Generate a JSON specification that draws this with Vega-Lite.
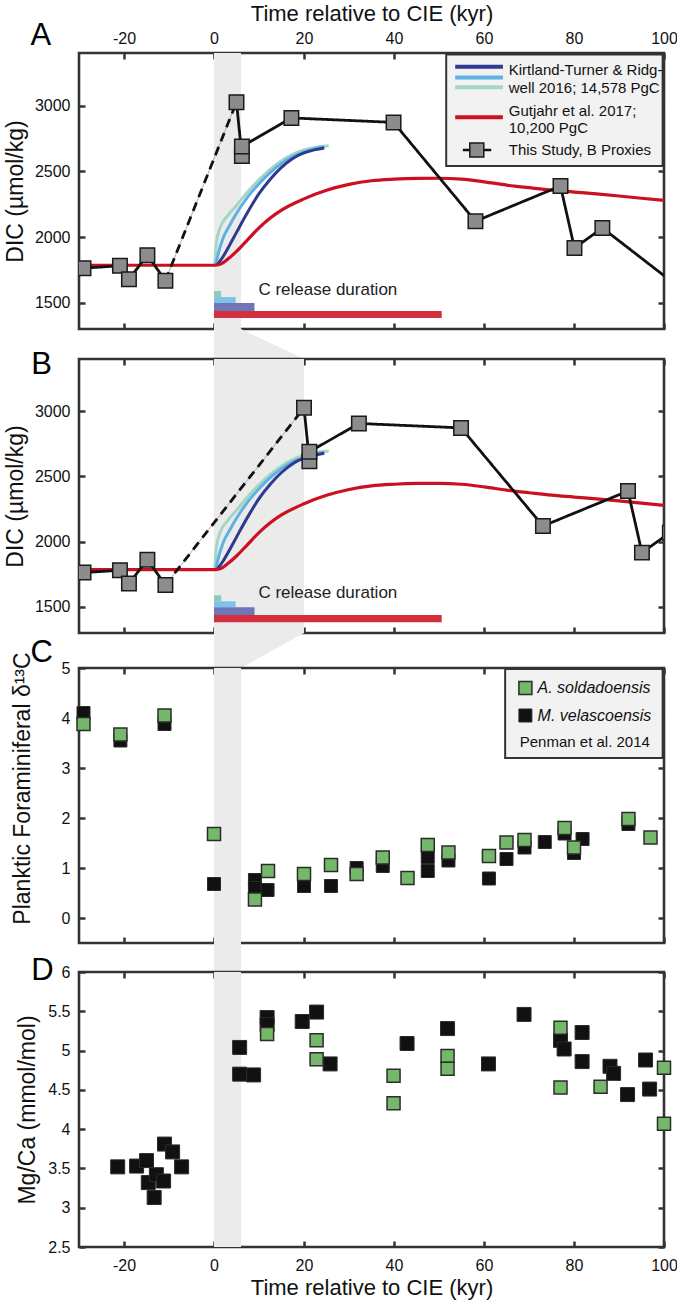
{
"$schema": "https://vega.github.io/schema/vega-lite/v6.json",
"padding": {"left": 3, "top": 0, "right": 0, "bottom": 0},
"bounds": "flush",
"spacing": 0,
"config": {
 "font": "Liberation Sans",
 "view": {"stroke": "#333333", "strokeWidth": 2.6},
 "axis": {"grid": false, "domain": false, "tickSize": -6, "tickWidth": 2.5, "tickColor": "#333333", "labelFontSize": 16, "labelColor": "#111111", "titleFontSize": 23, "titleFontWeight": "normal", "titleColor": "#111111", "labelFlush": false, "labelOverlap": false}
},
"datasets": {
 "kt": [
  {"model":"green","x":0.2,"dic":1790},{"model":"green","x":0.5,"dic":1950},{"model":"green","x":1.4,"dic":2075},{"model":"green","x":3,"dic":2160},{"model":"green","x":5,"dic":2240},{"model":"green","x":7.5,"dic":2345},{"model":"green","x":10,"dic":2435},{"model":"green","x":12.5,"dic":2515},{"model":"green","x":15,"dic":2580},{"model":"green","x":17.5,"dic":2628},{"model":"green","x":20,"dic":2662},{"model":"green","x":22.5,"dic":2682},{"model":"green","x":25.5,"dic":2695},
  {"model":"light","x":0.4,"dic":1790},{"model":"light","x":1,"dic":1880},{"model":"light","x":2,"dic":1990},{"model":"light","x":3.5,"dic":2090},{"model":"light","x":5,"dic":2180},{"model":"light","x":7.5,"dic":2305},{"model":"light","x":10,"dic":2405},{"model":"light","x":12.5,"dic":2490},{"model":"light","x":15,"dic":2560},{"model":"light","x":17.5,"dic":2612},{"model":"light","x":20,"dic":2648},{"model":"light","x":22.5,"dic":2672},{"model":"light","x":24.5,"dic":2684},
  {"model":"dark","x":0.6,"dic":1785},{"model":"dark","x":2,"dic":1850},{"model":"dark","x":3.5,"dic":1940},{"model":"dark","x":5,"dic":2035},{"model":"dark","x":7.5,"dic":2190},{"model":"dark","x":10,"dic":2330},{"model":"dark","x":12.5,"dic":2440},{"model":"dark","x":15,"dic":2530},{"model":"dark","x":17.5,"dic":2598},{"model":"dark","x":20,"dic":2640},{"model":"dark","x":22.5,"dic":2665},{"model":"dark","x":24.5,"dic":2678}
 ],
 "red": [
  {"x":-30,"dic":1785},{"x":0,"dic":1785},{"x":1.5,"dic":1795},{"x":3,"dic":1830},{"x":5,"dic":1890},{"x":7.5,"dic":1980},{"x":10,"dic":2070},{"x":12.5,"dic":2145},{"x":15,"dic":2205},{"x":20,"dic":2290},{"x":25,"dic":2355},{"x":30,"dic":2400},{"x":35,"dic":2428},{"x":40,"dic":2440},{"x":45,"dic":2446},{"x":50,"dic":2447},{"x":55,"dic":2440},{"x":60,"dic":2420},{"x":65,"dic":2395},{"x":70,"dic":2375},{"x":75,"dic":2356},{"x":80,"dic":2342},{"x":85,"dic":2328},{"x":90,"dic":2312},{"x":95,"dic":2295},{"x":100,"dic":2278}
 ],
 "proxyA": [
  {"seg":"pre","ord":1,"x":-29.0,"dic":1763},{"seg":"pre","ord":2,"x":-20.9,"dic":1781},{"seg":"pre","ord":3,"x":-18.9,"dic":1679},{"seg":"pre","ord":4,"x":-14.8,"dic":1862},{"seg":"pre","ord":5,"x":-10.8,"dic":1668},
  {"seg":"gap","ord":1,"x":-10.8,"dic":1668},{"seg":"gap","ord":2,"x":5.0,"dic":3026},
  {"seg":"post","ord":1,"x":5.0,"dic":3026},{"seg":"post","ord":2,"x":6.2,"dic":2617},{"seg":"post","ord":3,"x":6.2,"dic":2689},{"seg":"post","ord":4,"x":17.2,"dic":2906},{"seg":"post","ord":5,"x":39.9,"dic":2872},{"seg":"post","ord":6,"x":58.1,"dic":2120},{"seg":"post","ord":7,"x":77.0,"dic":2388},{"seg":"post","ord":8,"x":80.1,"dic":1916},{"seg":"post","ord":9,"x":86.3,"dic":2069},{"seg":"post","ord":10,"x":104,"dic":1600}
 ],
 "proxyB": [
  {"seg":"pre","ord":1,"x":-29.0,"dic":1763},{"seg":"pre","ord":2,"x":-20.9,"dic":1781},{"seg":"pre","ord":3,"x":-18.9,"dic":1679},{"seg":"pre","ord":4,"x":-14.8,"dic":1862},{"seg":"pre","ord":5,"x":-10.8,"dic":1668},
  {"seg":"gap","ord":1,"x":-10.8,"dic":1668},{"seg":"gap","ord":2,"x":20.0,"dic":3026},
  {"seg":"post","ord":1,"x":20.0,"dic":3026},{"seg":"post","ord":2,"x":21.2,"dic":2617},{"seg":"post","ord":3,"x":21.2,"dic":2689},{"seg":"post","ord":4,"x":32.2,"dic":2906},{"seg":"post","ord":5,"x":54.9,"dic":2872},{"seg":"post","ord":6,"x":73.1,"dic":2120},{"seg":"post","ord":7,"x":92.0,"dic":2388},{"seg":"post","ord":8,"x":95.1,"dic":1916},{"seg":"post","ord":9,"x":101.3,"dic":2069},{"seg":"post","ord":10,"x":119,"dic":1600}
 ],
 "c13": [
  {"sp":"M","x":-29.0,"v":4.10},{"sp":"M","x":-20.8,"v":3.55},{"sp":"M","x":-11.0,"v":3.88},{"sp":"M","x":0.0,"v":0.68},{"sp":"M","x":9.1,"v":0.76},{"sp":"M","x":9.1,"v":0.60},{"sp":"M","x":11.9,"v":0.56},{"sp":"M","x":20.0,"v":0.64},{"sp":"M","x":26.0,"v":0.64},{"sp":"M","x":31.7,"v":1.0},{"sp":"M","x":37.5,"v":1.04},{"sp":"M","x":47.5,"v":1.22},{"sp":"M","x":47.5,"v":0.94},{"sp":"M","x":52.1,"v":1.15},{"sp":"M","x":61.1,"v":0.79},{"sp":"M","x":65.0,"v":1.18},{"sp":"M","x":69.0,"v":1.41},{"sp":"M","x":73.5,"v":1.52},{"sp":"M","x":77.9,"v":1.69},{"sp":"M","x":80.0,"v":1.30},{"sp":"M","x":81.9,"v":1.58},{"sp":"M","x":92.1,"v":1.88},
  {"sp":"A","x":-29.0,"v":3.88},{"sp":"A","x":-20.8,"v":3.67},{"sp":"A","x":-11.0,"v":4.05},{"sp":"A","x":0.0,"v":1.68},{"sp":"A","x":9.1,"v":0.37},{"sp":"A","x":12.0,"v":0.94},{"sp":"A","x":20.0,"v":0.88},{"sp":"A","x":26.0,"v":1.06},{"sp":"A","x":31.7,"v":0.88},{"sp":"A","x":37.5,"v":1.21},{"sp":"A","x":43.0,"v":0.80},{"sp":"A","x":47.5,"v":1.46},{"sp":"A","x":52.1,"v":1.31},{"sp":"A","x":61.1,"v":1.24},{"sp":"A","x":65.0,"v":1.51},{"sp":"A","x":69.0,"v":1.56},{"sp":"A","x":77.9,"v":1.80},{"sp":"A","x":80.0,"v":1.41},{"sp":"A","x":92.1,"v":1.98},{"sp":"A","x":97.0,"v":1.61}
 ],
 "mgca": [
  {"sp":"M","x":-21.4,"v":3.52},{"sp":"M","x":-17.2,"v":3.53},{"sp":"M","x":-15.0,"v":3.60},{"sp":"M","x":-14.6,"v":3.32},{"sp":"M","x":-13.3,"v":3.13},{"sp":"M","x":-12.8,"v":3.42},{"sp":"M","x":-11.2,"v":3.34},{"sp":"M","x":-11.0,"v":3.81},{"sp":"M","x":-9.2,"v":3.71},{"sp":"M","x":-7.2,"v":3.52},
  {"sp":"M","x":5.7,"v":5.04},{"sp":"M","x":5.7,"v":4.70},{"sp":"M","x":8.8,"v":4.69},{"sp":"M","x":11.8,"v":5.42},{"sp":"M","x":11.8,"v":5.33},{"sp":"M","x":19.6,"v":5.37},{"sp":"M","x":22.8,"v":5.49},{"sp":"M","x":25.8,"v":4.83},{"sp":"M","x":42.9,"v":5.09},{"sp":"M","x":51.9,"v":5.28},{"sp":"M","x":61.0,"v":4.83},{"sp":"M","x":68.9,"v":5.46},{"sp":"M","x":77.0,"v":5.13},{"sp":"M","x":77.8,"v":5.02},{"sp":"M","x":81.8,"v":5.23},{"sp":"M","x":81.8,"v":4.86},{"sp":"M","x":88.0,"v":4.80},{"sp":"M","x":88.8,"v":4.71},{"sp":"M","x":91.9,"v":4.44},{"sp":"M","x":95.9,"v":4.88},{"sp":"M","x":96.8,"v":4.51},
  {"sp":"A","x":11.8,"v":5.21},{"sp":"A","x":22.8,"v":5.13},{"sp":"A","x":22.8,"v":4.89},{"sp":"A","x":39.9,"v":4.68},{"sp":"A","x":39.9,"v":4.33},{"sp":"A","x":51.9,"v":4.93},{"sp":"A","x":51.9,"v":4.77},{"sp":"A","x":77.0,"v":5.29},{"sp":"A","x":77.0,"v":4.53},{"sp":"A","x":85.9,"v":4.54},{"sp":"A","x":100,"v":4.78},{"sp":"A","x":100,"v":4.07}
 ]
},
"vconcat": [
 {
  "width": 585, "height": 276,
  "data": {"values": [{}]},
  "layer": [
   {"mark": {"type": "rect", "color": "#ebebeb"}, "encoding": {"x": {"datum": 0, "type": "quantitative", "scale": {"domain": [-30, 100], "nice": false, "zero": false}, "axis": null}, "x2": {"datum": 6}}},
   {"mark": {"type": "rect", "color": "#8ecbb4"}, "encoding": {"x": {"datum": 0, "type": "quantitative", "axis": null}, "x2": {"datum": 1.6}, "y": {"datum": 1543, "type": "quantitative", "scale": {"domain": [1300, 3400], "nice": false, "zero": false}, "axis": null}, "y2": {"datum": 1589}}},
   {"mark": {"type": "rect", "color": "#7fc1ea"}, "encoding": {"x": {"datum": 0, "type": "quantitative", "axis": null}, "x2": {"datum": 4.8}, "y": {"datum": 1497, "type": "quantitative", "axis": null}, "y2": {"datum": 1543}}},
   {"mark": {"type": "rect", "color": "#6f76b5"}, "encoding": {"x": {"datum": 0, "type": "quantitative", "axis": null}, "x2": {"datum": 9.0}, "y": {"datum": 1437, "type": "quantitative", "axis": null}, "y2": {"datum": 1497}}},
   {"mark": {"type": "rect", "color": "#d32f3f"}, "encoding": {"x": {"datum": 0, "type": "quantitative", "axis": null}, "x2": {"datum": 50.6}, "y": {"datum": 1383, "type": "quantitative", "axis": null}, "y2": {"datum": 1437}}},
   {"mark": {"type": "text", "fontSize": 17, "color": "#222222", "align": "center", "baseline": "middle", "text": "C release duration"}, "encoding": {"x": {"datum": 25.3, "type": "quantitative", "axis": null}, "y": {"datum": 1600, "type": "quantitative", "axis": null}}},
   {"data": {"name": "kt"}, "mark": {"type": "line", "strokeWidth": 3, "interpolate": "monotone"}, "encoding": {"x": {"field": "x", "type": "quantitative", "axis": {"orient": "bottom", "values": [-20, 0, 20, 40, 60, 80, 100], "labels": false, "title": null}}, "y": {"field": "dic", "type": "quantitative", "axis": {"orient": "right", "values": [1500, 2000, 2500, 3000], "labels": false, "title": null}}, "color": {"field": "model", "type": "nominal", "scale": {"domain": ["green", "light", "dark"], "range": ["#a3d6c4", "#5fb0e5", "#2e3990"]}, "legend": null}}},
   {"data": {"name": "red"}, "mark": {"type": "line", "color": "#cc1020", "strokeWidth": 3.2, "interpolate": "monotone"}, "encoding": {"x": {"field": "x", "type": "quantitative", "axis": null}, "y": {"field": "dic", "type": "quantitative", "axis": null}}},
   {"data": {"name": "proxyA"}, "transform": [{"filter": "datum.seg == 'gap'"}], "mark": {"type": "line", "color": "#9a9a9a", "strokeWidth": 0.8}, "encoding": {"x": {"field": "x", "type": "quantitative", "axis": null}, "y": {"field": "dic", "type": "quantitative", "axis": null}, "order": {"field": "ord"}}},
   {"data": {"name": "proxyA"}, "mark": {"type": "line", "color": "#111111", "strokeWidth": 2.8, "clip": true}, "encoding": {"x": {"field": "x", "type": "quantitative", "axis": null}, "y": {"field": "dic", "type": "quantitative", "axis": null}, "detail": {"field": "seg"}, "order": {"field": "ord"}, "strokeDash": {"field": "seg", "type": "nominal", "scale": {"domain": ["pre", "gap", "post"], "range": [[1, 0], [9, 6], [1, 0]]}, "legend": null}}},
   {"data": {"name": "proxyA"}, "transform": [{"filter": "datum.seg != 'gap'"}], "mark": {"type": "square", "size": 210, "fill": "#8c8c8c", "stroke": "#1a1a1a", "strokeWidth": 1.5, "opacity": 1, "clip": true}, "encoding": {"x": {"field": "x", "type": "quantitative", "axis": {"orient": "top", "values": [-20, 0, 20, 40, 60, 80, 100], "labelExpr": "datum.value + ''", "labelPadding": 13, "title": "Time relative to CIE (kyr)", "titleFontSize": 22, "titlePadding": 5}}, "y": {"field": "dic", "type": "quantitative", "axis": {"orient": "left", "values": [1500, 2000, 2500, 3000], "labelExpr": "datum.value + ''", "labelPadding": 15, "title": "DIC (µmol/kg)", "titlePadding": 7}}}},
   {"mark": {"type": "rect", "fill": "#f2f2f2", "stroke": "#333333", "strokeWidth": 2}, "encoding": {"x": {"datum": 51.6, "type": "quantitative", "axis": null}, "x2": {"datum": 99.7}, "y": {"datum": 2540, "type": "quantitative", "axis": null}, "y2": {"datum": 3388}}},
   {"mark": {"type": "rule", "color": "#2e3990", "strokeWidth": 4}, "encoding": {"x": {"datum": 53.6, "type": "quantitative", "axis": null}, "x2": {"datum": 64.2}, "y": {"datum": 3296, "type": "quantitative", "axis": null}}},
   {"mark": {"type": "rule", "color": "#5fb0e5", "strokeWidth": 4}, "encoding": {"x": {"datum": 53.6, "type": "quantitative", "axis": null}, "x2": {"datum": 64.2}, "y": {"datum": 3214, "type": "quantitative", "axis": null}}},
   {"mark": {"type": "rule", "color": "#a3d6c4", "strokeWidth": 4}, "encoding": {"x": {"datum": 53.6, "type": "quantitative", "axis": null}, "x2": {"datum": 64.2}, "y": {"datum": 3139, "type": "quantitative", "axis": null}}},
   {"mark": {"type": "rule", "color": "#cc1020", "strokeWidth": 4}, "encoding": {"x": {"datum": 53.6, "type": "quantitative", "axis": null}, "x2": {"datum": 64.2}, "y": {"datum": 2911, "type": "quantitative", "axis": null}}},
   {"mark": {"type": "rule", "color": "#111111", "strokeWidth": 2.5}, "encoding": {"x": {"datum": 55.3, "type": "quantitative", "axis": null}, "x2": {"datum": 61.6}, "y": {"datum": 2662, "type": "quantitative", "axis": null}}},
   {"mark": {"type": "square", "size": 196, "fill": "#8c8c8c", "stroke": "#1a1a1a", "strokeWidth": 1.5, "opacity": 1}, "encoding": {"x": {"datum": 58.4, "type": "quantitative", "axis": null}, "y": {"datum": 2662, "type": "quantitative", "axis": null}}},
   {"mark": {"type": "text", "fontSize": 15, "color": "#111111", "align": "left", "baseline": "middle", "text": "Kirtland-Turner & Ridg-"}, "encoding": {"x": {"datum": 65.5, "type": "quantitative", "axis": null}, "y": {"datum": 3271, "type": "quantitative", "axis": null}}},
   {"mark": {"type": "text", "fontSize": 15, "color": "#111111", "align": "left", "baseline": "middle", "text": "well 2016; 14,578 PgC"}, "encoding": {"x": {"datum": 65.5, "type": "quantitative", "axis": null}, "y": {"datum": 3131, "type": "quantitative", "axis": null}}},
   {"mark": {"type": "text", "fontSize": 15, "color": "#111111", "align": "left", "baseline": "middle", "text": "Gutjahr et al. 2017;"}, "encoding": {"x": {"datum": 65.5, "type": "quantitative", "axis": null}, "y": {"datum": 2961, "type": "quantitative", "axis": null}}},
   {"mark": {"type": "text", "fontSize": 15, "color": "#111111", "align": "left", "baseline": "middle", "text": "10,200 PgC"}, "encoding": {"x": {"datum": 65.5, "type": "quantitative", "axis": null}, "y": {"datum": 2827, "type": "quantitative", "axis": null}}},
   {"mark": {"type": "text", "fontSize": 15, "color": "#111111", "align": "left", "baseline": "middle", "text": "This Study, B Proxies"}, "encoding": {"x": {"datum": 65.5, "type": "quantitative", "axis": null}, "y": {"datum": 2662, "type": "quantitative", "axis": null}}},
   {"mark": {"type": "text", "fontSize": 31, "color": "#000000", "align": "left", "baseline": "alphabetic", "text": "A"}, "encoding": {"x": {"datum": -40.8, "type": "quantitative", "axis": null}, "y": {"datum": 3461, "type": "quantitative", "axis": null}}}
  ],
  "resolve": {"axis": {"x": "independent", "y": "independent"}}
 },
 {
  "width": 585, "height": 30, "view": {"stroke": null},
  "data": {"values": [{"t": 1, "lo": 0, "hi": 6}, {"t": 0, "lo": 0, "hi": 20}]},
  "mark": {"type": "area", "orient": "horizontal", "color": "#ebebeb"},
  "encoding": {"y": {"field": "t", "type": "quantitative", "scale": {"domain": [0, 1], "nice": false}, "axis": null}, "x": {"field": "lo", "type": "quantitative", "scale": {"domain": [-30, 100], "nice": false, "zero": false}, "axis": null}, "x2": {"field": "hi"}}
 },
 {
  "width": 585, "height": 274,
  "data": {"values": [{}]},
  "layer": [
   {"mark": {"type": "rect", "color": "#ebebeb"}, "encoding": {"x": {"datum": 0, "type": "quantitative", "scale": {"domain": [-30, 100], "nice": false, "zero": false}, "axis": null}, "x2": {"datum": 20}}},
   {"mark": {"type": "rect", "color": "#8ecbb4"}, "encoding": {"x": {"datum": 0, "type": "quantitative", "axis": null}, "x2": {"datum": 1.6}, "y": {"datum": 1543, "type": "quantitative", "scale": {"domain": [1300, 3400], "nice": false, "zero": false}, "axis": null}, "y2": {"datum": 1589}}},
   {"mark": {"type": "rect", "color": "#7fc1ea"}, "encoding": {"x": {"datum": 0, "type": "quantitative", "axis": null}, "x2": {"datum": 4.8}, "y": {"datum": 1497, "type": "quantitative", "axis": null}, "y2": {"datum": 1543}}},
   {"mark": {"type": "rect", "color": "#6f76b5"}, "encoding": {"x": {"datum": 0, "type": "quantitative", "axis": null}, "x2": {"datum": 9.0}, "y": {"datum": 1437, "type": "quantitative", "axis": null}, "y2": {"datum": 1497}}},
   {"mark": {"type": "rect", "color": "#d32f3f"}, "encoding": {"x": {"datum": 0, "type": "quantitative", "axis": null}, "x2": {"datum": 50.6}, "y": {"datum": 1383, "type": "quantitative", "axis": null}, "y2": {"datum": 1437}}},
   {"mark": {"type": "text", "fontSize": 17, "color": "#222222", "align": "center", "baseline": "middle", "text": "C release duration"}, "encoding": {"x": {"datum": 25.3, "type": "quantitative", "axis": null}, "y": {"datum": 1605, "type": "quantitative", "axis": null}}},
   {"data": {"name": "kt"}, "mark": {"type": "line", "strokeWidth": 3, "interpolate": "monotone"}, "encoding": {"x": {"field": "x", "type": "quantitative", "axis": {"orient": "bottom", "values": [-20, 0, 20, 40, 60, 80, 100], "labels": false, "title": null}}, "y": {"field": "dic", "type": "quantitative", "axis": {"orient": "right", "values": [1500, 2000, 2500, 3000], "labels": false, "title": null}}, "color": {"field": "model", "type": "nominal", "scale": {"domain": ["green", "light", "dark"], "range": ["#a3d6c4", "#5fb0e5", "#2e3990"]}, "legend": null}}},
   {"data": {"name": "red"}, "mark": {"type": "line", "color": "#cc1020", "strokeWidth": 3.2, "interpolate": "monotone"}, "encoding": {"x": {"field": "x", "type": "quantitative", "axis": null}, "y": {"field": "dic", "type": "quantitative", "axis": null}}},
   {"data": {"name": "proxyB"}, "transform": [{"filter": "datum.seg == 'gap'"}], "mark": {"type": "line", "color": "#9a9a9a", "strokeWidth": 0.8}, "encoding": {"x": {"field": "x", "type": "quantitative", "axis": null}, "y": {"field": "dic", "type": "quantitative", "axis": null}, "order": {"field": "ord"}}},
   {"data": {"name": "proxyB"}, "mark": {"type": "line", "color": "#111111", "strokeWidth": 2.8, "clip": true}, "encoding": {"x": {"field": "x", "type": "quantitative", "axis": null}, "y": {"field": "dic", "type": "quantitative", "axis": null}, "detail": {"field": "seg"}, "order": {"field": "ord"}, "strokeDash": {"field": "seg", "type": "nominal", "scale": {"domain": ["pre", "gap", "post"], "range": [[1, 0], [9, 6], [1, 0]]}, "legend": null}}},
   {"data": {"name": "proxyB"}, "transform": [{"filter": "datum.seg != 'gap'"}], "mark": {"type": "square", "size": 210, "fill": "#8c8c8c", "stroke": "#1a1a1a", "strokeWidth": 1.5, "opacity": 1, "clip": true}, "encoding": {"x": {"field": "x", "type": "quantitative", "axis": {"orient": "top", "values": [-20, 0, 20, 40, 60, 80, 100], "labels": false, "title": null}}, "y": {"field": "dic", "type": "quantitative", "axis": {"orient": "left", "values": [1500, 2000, 2500, 3000], "labelExpr": "datum.value + ''", "labelPadding": 15, "title": "DIC (µmol/kg)", "titlePadding": 7}}}},
   {"mark": {"type": "text", "fontSize": 31, "color": "#000000", "align": "left", "baseline": "alphabetic", "text": "B"}, "encoding": {"x": {"datum": -40.6, "type": "quantitative", "axis": null}, "y": {"datum": 3285, "type": "quantitative", "axis": null}}}
  ],
  "resolve": {"axis": {"x": "independent", "y": "independent"}}
 },
 {
  "width": 585, "height": 35, "view": {"stroke": null},
  "data": {"values": [{"t": 1, "lo": 0, "hi": 20}, {"t": 0, "lo": 0, "hi": 6}]},
  "mark": {"type": "area", "orient": "horizontal", "color": "#ebebeb"},
  "encoding": {"y": {"field": "t", "type": "quantitative", "scale": {"domain": [0, 1], "nice": false}, "axis": null}, "x": {"field": "lo", "type": "quantitative", "scale": {"domain": [-30, 100], "nice": false, "zero": false}, "axis": null}, "x2": {"field": "hi"}}
 },
 {
  "width": 585, "height": 275,
  "data": {"values": [{}]},
  "layer": [
   {"mark": {"type": "rect", "color": "#ebebeb"}, "encoding": {"x": {"datum": 0, "type": "quantitative", "scale": {"domain": [-30, 100], "nice": false, "zero": false}, "axis": null}, "x2": {"datum": 6}}},
   {"data": {"name": "c13"}, "transform": [{"filter": "datum.sp == 'M'"}], "mark": {"type": "square", "size": 169, "fill": "#111111", "stroke": "#2b2b2b", "strokeWidth": 1, "opacity": 1}, "encoding": {"x": {"field": "x", "type": "quantitative", "axis": {"orient": "bottom", "values": [-20, 0, 20, 40, 60, 80, 100], "labels": false, "title": null}}, "y": {"field": "v", "type": "quantitative", "scale": {"domain": [-0.5, 5], "nice": false, "zero": false}, "axis": {"orient": "left", "values": [0, 1, 2, 3, 4, 5], "labelExpr": "datum.value + ''", "labelPadding": 15, "title": "Planktic Foraminiferal δ¹³C", "titlePadding": 27, "titleY": 120}}}},
   {"data": {"name": "c13"}, "transform": [{"filter": "datum.sp == 'A'"}], "mark": {"type": "square", "size": 169, "fill": "#76b86b", "stroke": "#2b2b2b", "strokeWidth": 1.5, "opacity": 1}, "encoding": {"x": {"field": "x", "type": "quantitative", "axis": {"orient": "top", "values": [-20, 0, 20, 40, 60, 80, 100], "labels": false, "title": null}}, "y": {"field": "v", "type": "quantitative", "axis": {"orient": "right", "values": [0, 1, 2, 3, 4, 5], "labels": false, "title": null}}}},
   {"mark": {"type": "rect", "fill": "#f2f2f2", "stroke": "#333333", "strokeWidth": 2}, "encoding": {"x": {"datum": 64.7, "type": "quantitative", "axis": null}, "x2": {"datum": 99.7}, "y": {"datum": 3.2, "type": "quantitative", "axis": null}, "y2": {"datum": 4.98}}},
   {"mark": {"type": "square", "size": 169, "fill": "#76b86b", "stroke": "#2b2b2b", "strokeWidth": 1.5, "opacity": 1}, "encoding": {"x": {"datum": 69.2, "type": "quantitative", "axis": null}, "y": {"datum": 4.6, "type": "quantitative", "axis": null}}},
   {"mark": {"type": "square", "size": 169, "fill": "#111111", "stroke": "#2b2b2b", "strokeWidth": 1, "opacity": 1}, "encoding": {"x": {"datum": 69.2, "type": "quantitative", "axis": null}, "y": {"datum": 4.05, "type": "quantitative", "axis": null}}},
   {"mark": {"type": "text", "fontSize": 16, "fontStyle": "italic", "color": "#111111", "align": "left", "baseline": "middle", "text": "A. soldadoensis"}, "encoding": {"x": {"datum": 71.9, "type": "quantitative", "axis": null}, "y": {"datum": 4.6, "type": "quantitative", "axis": null}}},
   {"mark": {"type": "text", "fontSize": 16, "fontStyle": "italic", "color": "#111111", "align": "left", "baseline": "middle", "text": "M. velascoensis"}, "encoding": {"x": {"datum": 71.9, "type": "quantitative", "axis": null}, "y": {"datum": 4.05, "type": "quantitative", "axis": null}}},
   {"mark": {"type": "text", "fontSize": 15, "color": "#111111", "align": "center", "baseline": "middle", "text": "Penman et al. 2014"}, "encoding": {"x": {"datum": 82.4, "type": "quantitative", "axis": null}, "y": {"datum": 3.53, "type": "quantitative", "axis": null}}},
   {"mark": {"type": "text", "fontSize": 31, "color": "#000000", "align": "left", "baseline": "alphabetic", "text": "C"}, "encoding": {"x": {"datum": -40.8, "type": "quantitative", "axis": null}, "y": {"datum": 5.12, "type": "quantitative", "axis": null}}}
  ],
  "resolve": {"axis": {"x": "independent", "y": "independent"}}
 },
 {
  "width": 585, "height": 29, "view": {"stroke": null},
  "data": {"values": [{"lo": 0, "hi": 6}]},
  "mark": {"type": "rect", "color": "#ebebeb"},
  "encoding": {"x": {"field": "lo", "type": "quantitative", "scale": {"domain": [-30, 100], "nice": false, "zero": false}, "axis": null}, "x2": {"field": "hi"}}
 },
 {
  "width": 585, "height": 275,
  "data": {"values": [{}]},
  "layer": [
   {"mark": {"type": "rect", "color": "#ebebeb"}, "encoding": {"x": {"datum": 0, "type": "quantitative", "scale": {"domain": [-30, 100], "nice": false, "zero": false}, "axis": null}, "x2": {"datum": 6}}},
   {"data": {"name": "mgca"}, "transform": [{"filter": "datum.sp == 'M'"}], "mark": {"type": "square", "size": 196, "fill": "#111111", "stroke": "#2b2b2b", "strokeWidth": 1, "opacity": 1}, "encoding": {"x": {"field": "x", "type": "quantitative", "axis": {"orient": "bottom", "values": [-20, 0, 20, 40, 60, 80, 100], "labelExpr": "datum.value + ''", "labelPadding": 16, "title": "Time relative to CIE (kyr)", "titleFontSize": 22, "titlePadding": 4}}, "y": {"field": "v", "type": "quantitative", "scale": {"domain": [2.5, 6], "nice": false, "zero": false}, "axis": {"orient": "left", "values": [2.5, 3, 3.5, 4, 4.5, 5, 5.5, 6], "labelExpr": "datum.value + ''", "labelPadding": 15, "title": "Mg/Ca (mmol/mol)", "titlePadding": 8}}}},
   {"data": {"name": "mgca"}, "transform": [{"filter": "datum.sp == 'A'"}], "mark": {"type": "square", "size": 169, "fill": "#76b86b", "stroke": "#2b2b2b", "strokeWidth": 1.5, "opacity": 1}, "encoding": {"x": {"field": "x", "type": "quantitative", "axis": {"orient": "top", "values": [-20, 0, 20, 40, 60, 80, 100], "labels": false, "title": null}}, "y": {"field": "v", "type": "quantitative", "axis": {"orient": "right", "values": [2.5, 3, 3.5, 4, 4.5, 5, 5.5, 6], "labels": false, "title": null}}}},
   {"mark": {"type": "text", "fontSize": 31, "color": "#000000", "align": "left", "baseline": "alphabetic", "text": "D"}, "encoding": {"x": {"datum": -40.6, "type": "quantitative", "axis": null}, "y": {"datum": 5.9, "type": "quantitative", "axis": null}}}
  ],
  "resolve": {"axis": {"x": "independent", "y": "independent"}}
 }
]
}
